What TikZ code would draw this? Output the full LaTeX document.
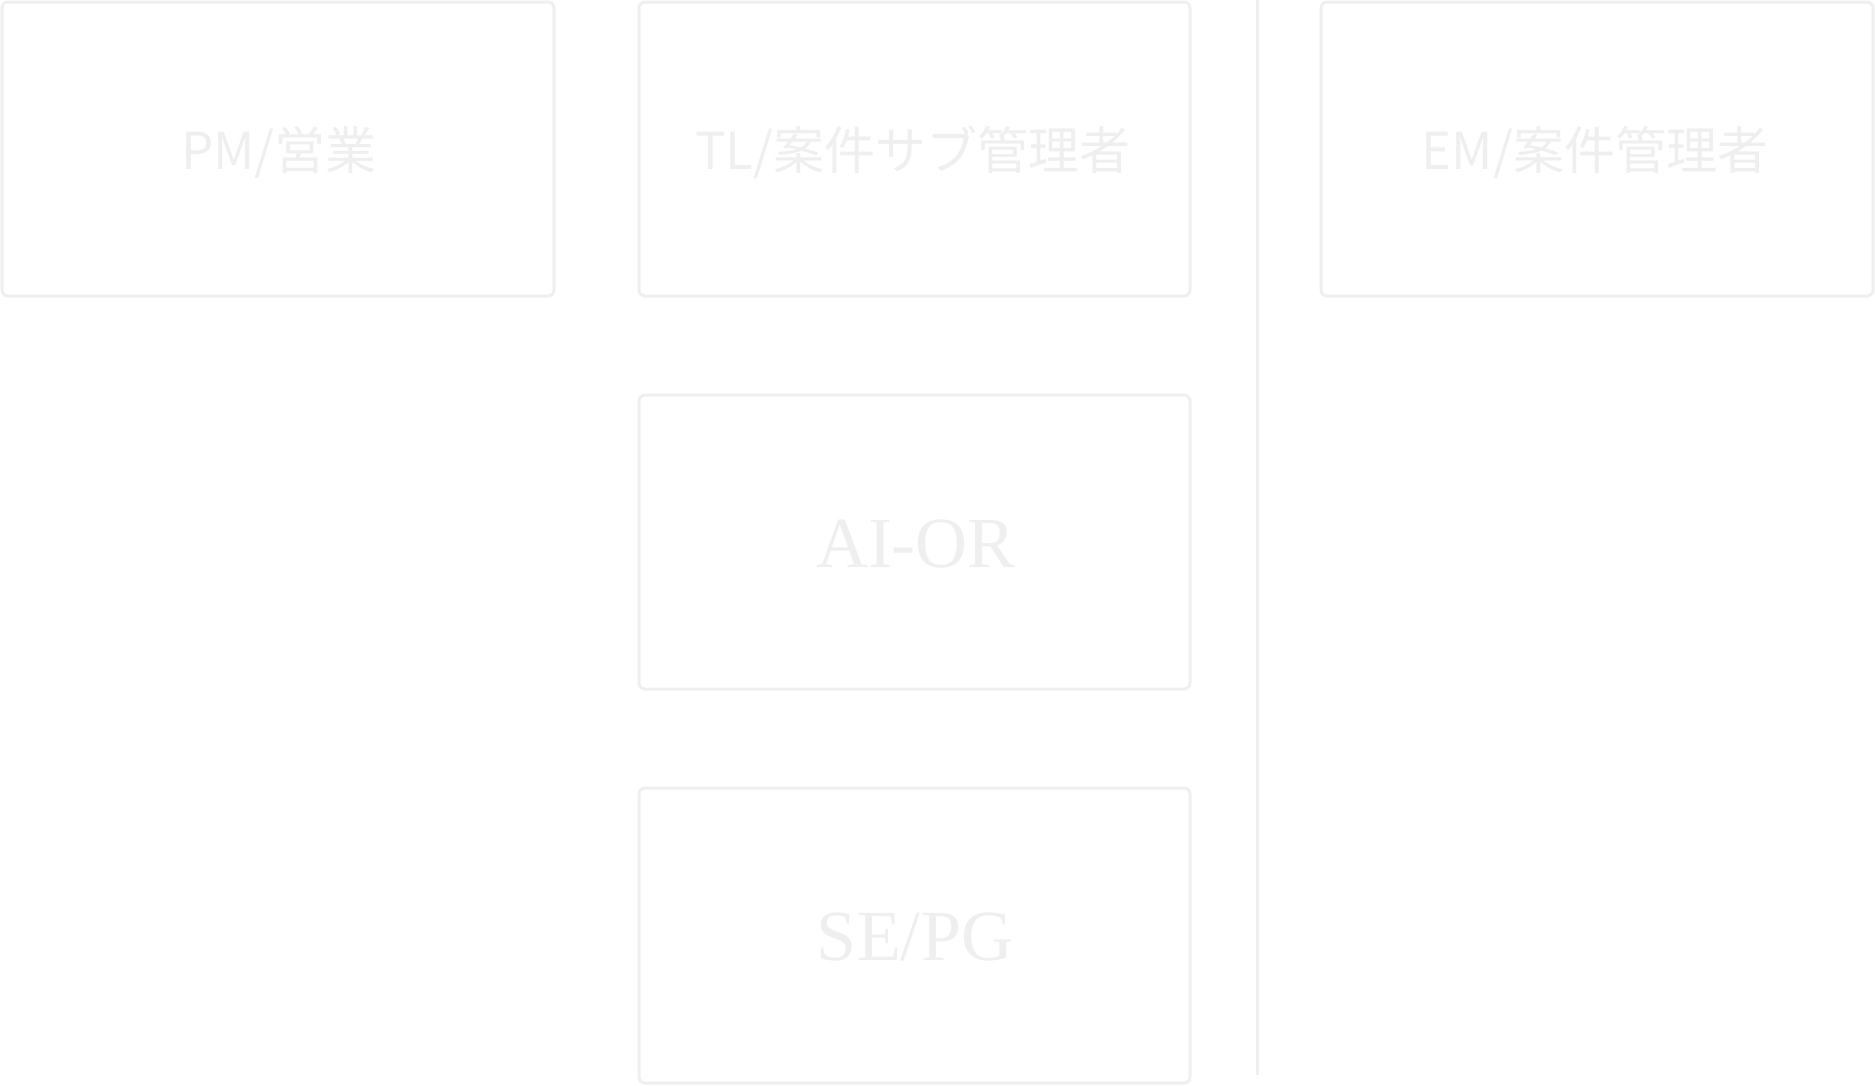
\documentclass[tikz,border=0pt]{standalone}
\usepackage{fontspec}
\newfontfamily\cjk{Noto Sans CJK JP}
\setmainfont{Liberation Serif}
\definecolor{lg}{HTML}{EFEFEF}
\tikzset{
  rolebox/.style={draw=lg, line width=3pt, rounded corners=6pt},
  jlabel/.style={anchor=base, text=lg, inner sep=0pt, font=\cjk\fontsize{51}{53}\selectfont},
  elabel/.style={anchor=base, text=lg, inner sep=0pt, font=\fontsize{72}{74}\selectfont},
}
\begin{document}
\begin{tikzpicture}[x=1pt,y=-1pt]
\useasboundingbox (0,0) rectangle (1875,1085);
\draw[rolebox] (2,2) rectangle (554,296);
\draw[rolebox] (639,2) rectangle (1190,296);
\draw[rolebox] (1321,2) rectangle (1873,296);
\draw[rolebox] (639,395) rectangle (1190,689);
\draw[rolebox] (639,788) rectangle (1190,1083);
\coordinate (ltop) at (1257,0);
\coordinate (lbot) at (1257,1075);
\draw[draw=lg, line width=3pt] (ltop) -- (lbot);
\node[jlabel] (pm) at (279,169) {PM/営業};
\node[jlabel] (tl) at (913,169) {TL/案件サブ管理者};
\node[jlabel] (em) at (1595,169) {EM/案件管理者};
\node[elabel] (ai) at (916,567) {AI-OR};
\node[elabel] (se) at (915,960) {SE/PG};
\end{tikzpicture}
\end{document}
